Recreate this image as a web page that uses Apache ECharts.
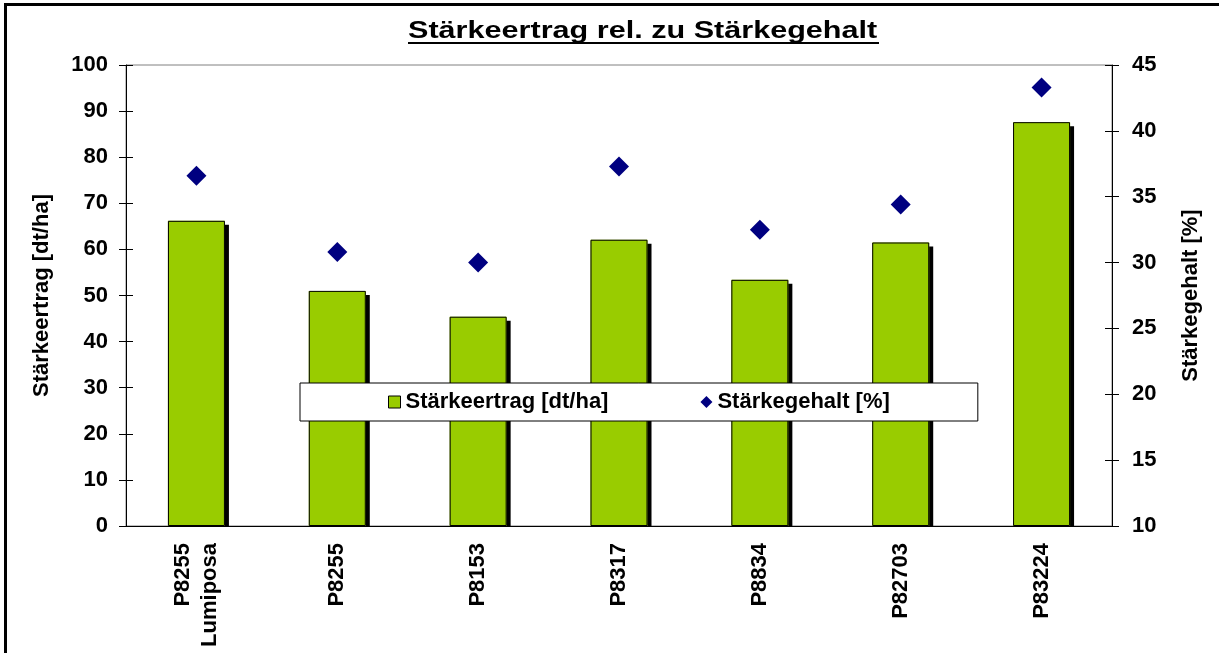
<!DOCTYPE html>
<html>
<head>
<meta charset="utf-8">
<script src="https://cdn.jsdelivr.net/npm/echarts@6/dist/echarts.min.js"></script>
<style>
  html, body { margin: 0; padding: 0; background: #fff; }
  #main { width: 1219px; height: 653px; }
  /* outer chart frame like the Excel chart area */
  #frame {
    position: absolute; left: 4px; top: 3px; width: 1300px; height: 648px;
    border-left: 3px solid #000; border-top: 3px solid #000; border-bottom: 1px solid #888;
    pointer-events: none;
  }
</style>
</head>
<body>
<div id="main"></div>
<div id="frame"></div>
<script>
const categories = ['P8255\nLumiposa', 'P8255', 'P8153', 'P8317', 'P8834', 'P82703', 'P83224'];
const ertrag = [66.2, 51.0, 45.4, 62.1, 53.4, 61.5, 87.6];   // Stärkeertrag [dt/ha]
const gehalt = [36.6, 30.8, 30.0, 37.3, 32.5, 34.4, 43.3];   // Stärkegehalt [%]
const leftTicks = { min: 0, max: 100, interval: 10 };
const rightTicks = { min: 10, max: 45, interval: 5 };

const font = '"Liberation Sans", Arial, sans-serif';
const labelStyle = { color: '#000', fontSize: 22, fontWeight: 'bold', fontFamily: font };

const myChart = echarts.init(document.getElementById('main'));

const option = {
  animation: false,
  backgroundColor: '#fff',
  graphic: [
    {
      type: 'text',
      x: 408, y: 20,
      scaleX: 1.33,
      style: {
        text: 'Stärkeertrag rel. zu Stärkegehalt',
        font: 'bold 23px ' + font,
        fill: '#000',
        align: 'left',
        verticalAlign: 'top'
      }
    },
    {
      // title underline
      type: 'line',
      shape: { x1: 408, y1: 43, x2: 879, y2: 43 },
      style: { stroke: '#000', lineWidth: 2 }
    },
    {
      // hide the part of the bar shadows that falls below the baseline
      type: 'rect',
      z: 5,
      shape: { x: 127, y: 527, width: 984, height: 6 },
      style: { fill: '#fff' }
    }
  ],
  grid: {
    left: 126, right: 107, top: 65, bottom: 127,
    show: true, borderColor: '#808080', borderWidth: 1
  },
  legend: {
    left: 300, top: 383,
    padding: [8, 88],
    itemGap: 92,
    itemWidth: 12, itemHeight: 12,
    backgroundColor: '#fff',
    borderColor: '#000', borderWidth: 1,
    textStyle: labelStyle,
    data: [
      { name: 'Stärkeertrag [dt/ha]', icon: 'rect',
        itemStyle: { color: '#99CC00', borderColor: '#000', borderWidth: 1, shadowColor: 'transparent' } },
      { name: 'Stärkegehalt [%]', icon: 'diamond', itemStyle: { color: '#000080', opacity: 1 } }
    ]
  },
  xAxis: [
    {
      type: 'category',
      data: categories,
      position: 'bottom',
      z: 10,
      axisLine: { lineStyle: { color: '#000', width: 1 } },
      axisTick: { inside: false, length: 7, lineStyle: { color: '#000' } },
      axisLabel: { ...labelStyle, rotate: 90, margin: 17, lineHeight: 27 },
      splitLine: { show: false }
    },
    {
      // second copy only for the inner half of the crossing ticks
      type: 'category',
      data: categories,
      position: 'bottom',
      z: 10,
      axisLine: { show: false },
      axisTick: { inside: true, length: 7, lineStyle: { color: '#000' } },
      axisLabel: { show: false },
      splitLine: { show: false }
    }
  ],
  yAxis: [
    {
      type: 'value',
      position: 'left',
      ...leftTicks,
      name: 'Stärkeertrag [dt/ha]',
      nameLocation: 'middle',
      nameRotate: 90,
      nameGap: 73,
      nameTextStyle: labelStyle,
      axisLine: { show: true, lineStyle: { color: '#000' } },
      axisTick: { show: true, length: 7, lineStyle: { color: '#000' } },
      axisLabel: { ...labelStyle, margin: 18 },
      splitLine: { show: false }
    },
    {
      type: 'value',
      position: 'right',
      ...rightTicks,
      name: 'Stärkegehalt [%]',
      nameLocation: 'middle',
      nameRotate: 90,
      nameGap: 68,
      nameTextStyle: labelStyle,
      axisLine: { show: true, lineStyle: { color: '#000' } },
      axisTick: { show: true, length: 7, lineStyle: { color: '#000' } },
      axisLabel: { ...labelStyle, margin: 20 },
      splitLine: { show: false }
    },
    {
      type: 'value',
      position: 'left',
      ...leftTicks,
      axisLine: { show: false },
      axisTick: { show: true, inside: true, length: 7, lineStyle: { color: '#000' } },
      axisLabel: { show: false },
      splitLine: { show: false }
    },
    {
      type: 'value',
      position: 'right',
      ...rightTicks,
      axisLine: { show: false },
      axisTick: { show: true, inside: true, length: 7, lineStyle: { color: '#000' } },
      axisLabel: { show: false },
      splitLine: { show: false }
    }
  ],
  series: [
    {
      // filled bars with the hard black drop shadow
      name: 'Stärkeertrag [dt/ha]',
      type: 'bar',
      data: ertrag,
      barWidth: 57,
      itemStyle: {
        color: '#99CC00',
        shadowColor: '#000',
        shadowBlur: 0,
        shadowOffsetX: 4,
        shadowOffsetY: 4
      },
      emphasis: { disabled: true }
    },
    {
      // black outline drawn on top, without shadow
      name: 'outline',
      type: 'bar',
      data: ertrag,
      barWidth: 57,
      barGap: '-100%',
      itemStyle: { color: 'transparent', borderColor: '#000', borderWidth: 1 },
      emphasis: { disabled: true },
      silent: true
    },
    {
      name: 'Stärkegehalt [%]',
      type: 'scatter',
      yAxisIndex: 1,
      data: gehalt,
      symbol: 'diamond',
      symbolSize: 20,
      itemStyle: { color: '#000080', opacity: 1 },
      emphasis: { disabled: true },
      z: 3
    }
  ]
};

myChart.setOption(option);
window.addEventListener('resize', () => myChart.resize());
</script>
</body>
</html>
